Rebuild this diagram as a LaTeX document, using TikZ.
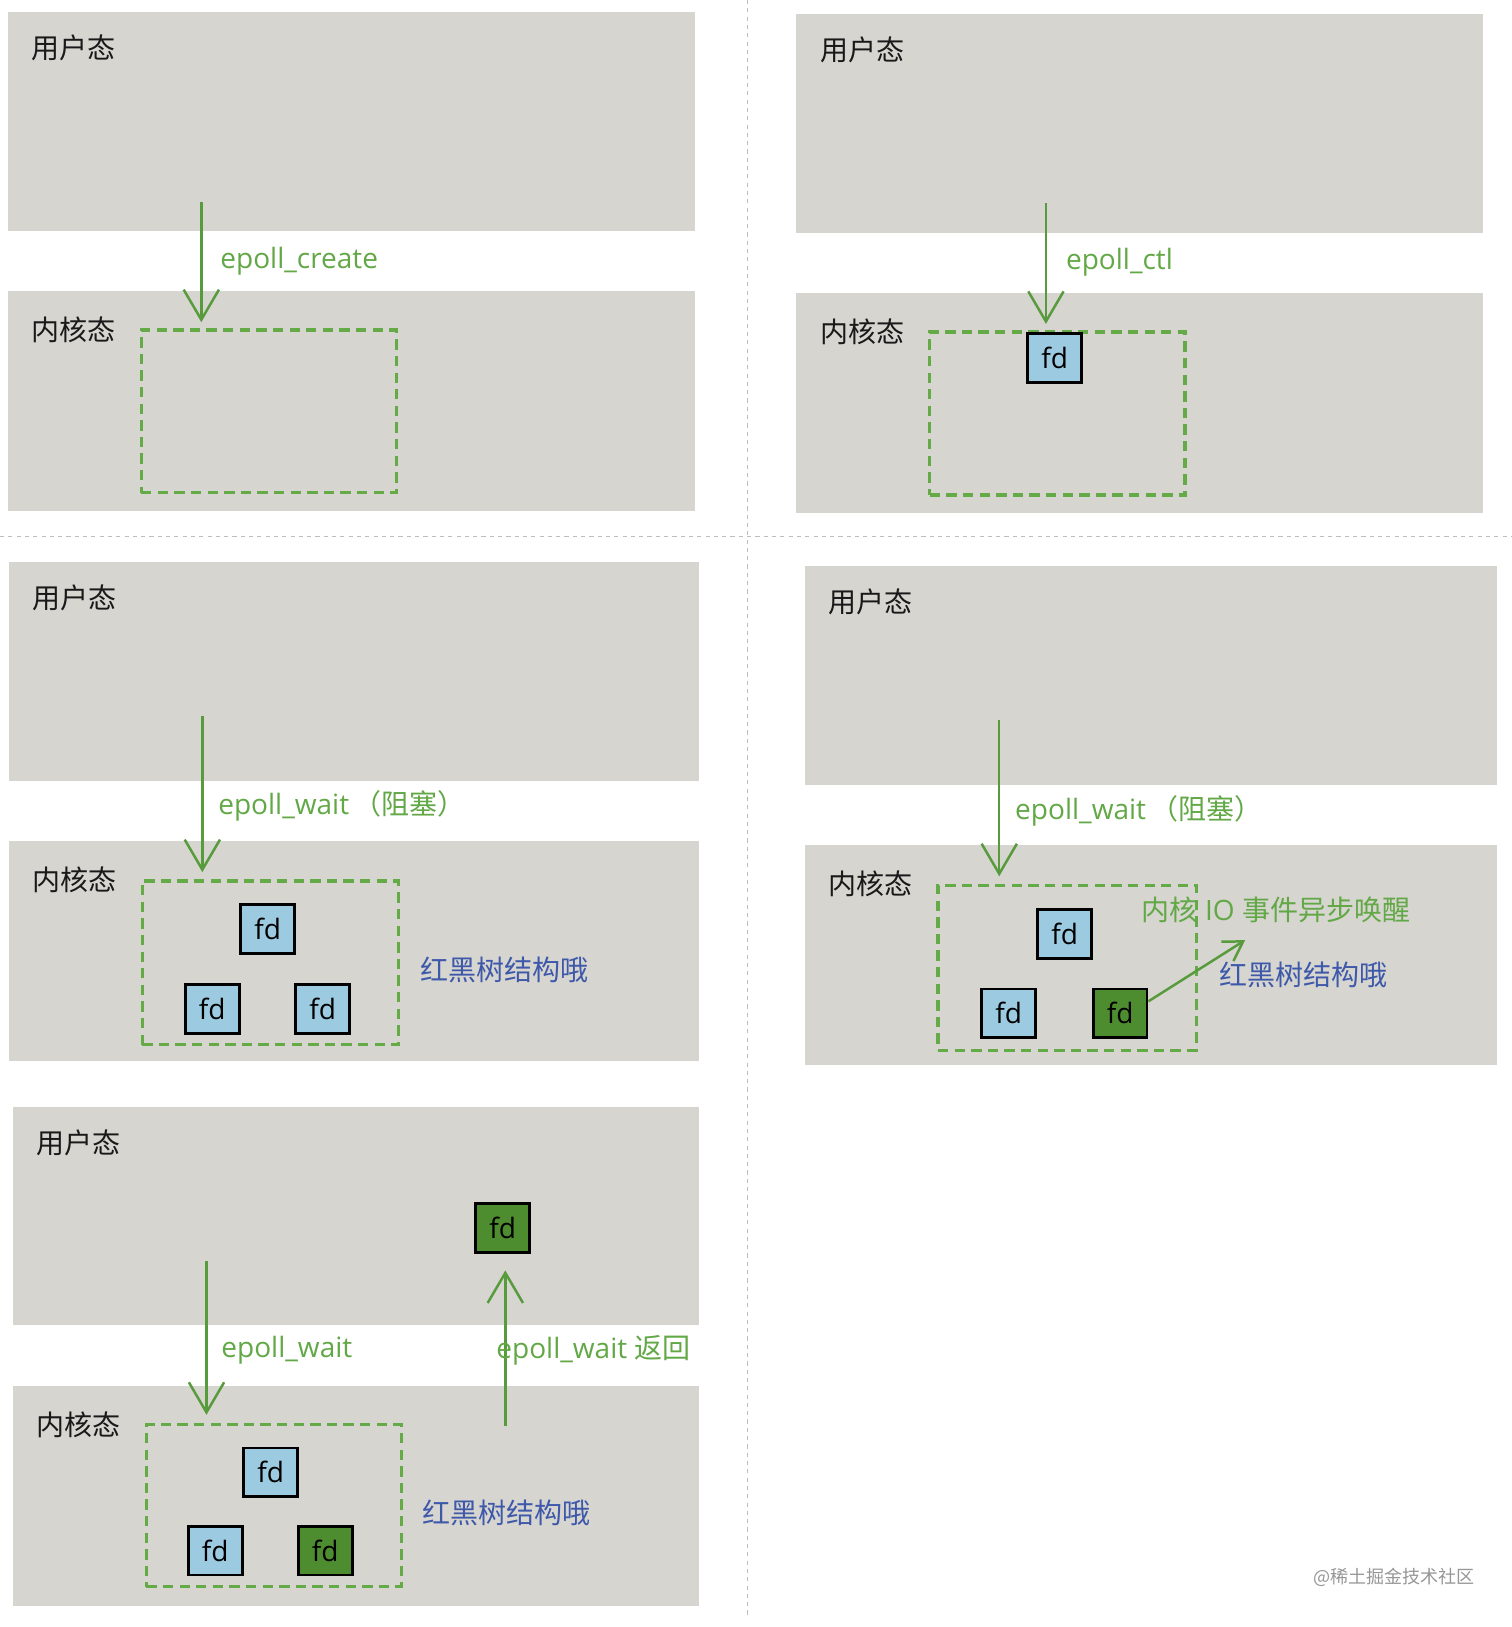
\documentclass[tikz,border=0pt]{standalone}
\usepackage{fontspec}
\setmainfont{Open Sans}
\newfontfamily\cjk{Noto Sans CJK SC}
\usetikzlibrary{arrows.meta}

\definecolor{boxgray}{RGB}{214,213,208}
\definecolor{arrowgreen}{RGB}{88,155,60}
\definecolor{textgreen}{RGB}{98,168,70}
\definecolor{dashgreen}{RGB}{100,170,70}
\definecolor{fdblue}{RGB}{156,203,225}
\definecolor{fdgreen}{RGB}{78,140,48}
\definecolor{textblue}{RGB}{62,88,170}

\tikzset{
  layer/.style={fill=boxgray, inner sep=0pt, minimum height=105.5pt},
  modelabel/.style={anchor=west, inner sep=0pt, text={rgb,255:red,25;green,25;blue,25},
    font=\cjk\fontsize{13.5}{16}\selectfont},
  calllabel/.style={anchor=west, inner sep=0pt, text=textgreen, font=\fontsize{13.5}{16}\selectfont},
  treelabel/.style={anchor=west, inner sep=0pt, text=textblue, font=\cjk\fontsize{13.5}{16}\selectfont},
  flow/.style={draw=arrowgreen, line width=1.2pt, -{Straight Barb[length=14.5pt,width=17pt]}},
  fdset/.style={draw=dashgreen, line width=1.5pt, dash pattern=on 5pt off 3pt, inner sep=0pt},
  fdbox/.style={draw=black, line width=1.3pt, fill=fdblue, inner sep=0pt,
    minimum width=26pt, minimum height=23.5pt, font=\fontsize{13.5}{16}\selectfont},
  fdready/.style={fdbox, fill=fdgreen},
  sepline/.style={draw={rgb,255:red,190;green,190;blue,190}, line width=0.5pt, dash pattern=on 2pt off 2pt}
}

% user/kernel layers of one step: #1 prefix, #2 left x, #3 top y, #4 width
\newcommand{\modepair}[4]{%
  \node[layer, anchor=north west, minimum width=#4*0.5pt] (#1user) at (#2,#3) {};
  \node[layer, anchor=north west, minimum width=#4*0.5pt, minimum height=106pt] (#1kern) at (#2,#3+269) {};
  \node[modelabel] (#1userlbl) at (#2+23,#3+35) {用户态};
  \node[modelabel] (#1kernlbl) at (#2+23,#3+307) {内核态};
}

\begin{document}
\begin{tikzpicture}[x=0.5pt, y=-0.5pt]
\useasboundingbox (0,0) rectangle (1457,1568);

% Separators
\draw[sepline] (720,0) -- (720,1560);
\draw[sepline] (0,517) -- (1457,517);

% ---- epoll_create ----
\modepair{c}{7}{11}{662}
\node[fdset, minimum width=123pt, minimum height=78.5pt] (cset) at (259,396.5) {};
\coordinate (cstart) at (194,195);
\draw[flow, shorten >=3pt] (cstart) -- (cstart |- cset.north);
\node[calllabel] (ccall) at (212,252) {epoll\_create};

% ---- epoll_ctl ----
\modepair{t}{767}{13}{662}
\node[fdset, minimum width=123pt, minimum height=78.5pt] (tset) at (1019,398.5) {};
\node[fdbox] (tfd) at (1016.5,345) {fd};
\coordinate (tstart) at (1008,196);
\draw[flow, shorten >=4pt] (tstart) -- (tstart |- tfd.north);
\node[calllabel] (tcall) at (1027,253) {epoll\_ctl};

% ---- epoll_wait (blocked) ----
\modepair{w}{8}{541}{665}
\node[fdset, minimum width=123.5pt, minimum height=79pt] (wset) at (260.5,928) {};
\node[fdbox] (wfd1) at (258,895.5) {fd};
\node[fdbox] (wfd2) at (204.5,972.5) {fd};
\node[fdbox] (wfd3) at (311,972.5) {fd};
\coordinate (wstart) at (195,690);
\draw[flow, shorten >=3.5pt] (wstart) -- (wstart |- wset.north);
\node[calllabel] (wcall) at (210,777) {epoll\_wait\,{\cjk （阻塞）}};
\node[treelabel] (wtree) at (405,935) {红黑树结构哦};

% ---- kernel wakes up ----
\modepair{k}{775}{545}{667}
\node[fdset, minimum width=124.5pt, minimum height=79.5pt] (kset) at (1028.5,932.5) {};
\node[fdbox] (kfd1) at (1026,900) {fd};
\node[fdbox] (kfd2) at (972,976.5) {fd};
\node[fdready] (kfd3) at (1079.5,976.5) {fd};
\coordinate (kstart) at (963,694);
\draw[flow, shorten >=3.5pt] (kstart) -- (kstart |- kset.north);
\node[calllabel] (kcall) at (978,781) {epoll\_wait\,{\cjk （阻塞）}};
\node[calllabel] (kwake) at (1100,877) {{\cjk 内核} IO {\cjk 事件异步唤醒}};
\node[treelabel] (ktree) at (1175,940) {红黑树结构哦};
\coordinate (kend) at (1200,906);
\draw[draw=arrowgreen, line width=1.2pt, -{Straight Barb[length=9pt,width=11pt]}]
  ([yshift=5.75pt]kfd3.east) -- (kend);

% ---- epoll_wait returns ----
\modepair{r}{12}{1066}{661}
\node[fdset, minimum width=123pt, minimum height=78pt] (rset) at (264,1451) {};
\node[fdbox] (rfd1) at (261,1419) {fd};
\node[fdbox] (rfd2) at (207.5,1494.5) {fd};
\node[fdready] (rfd3) at (313.5,1494.5) {fd};
\node[fdready] (rfdout) at (484.5,1183.5) {fd};
\coordinate (rstart) at (199,1215);
\draw[flow, shorten >=4pt] (rstart) -- (rstart |- rset.north);
\coordinate (rback) at (487,1374);
\draw[flow, shorten >=8pt] (rback) -- (rback |- rfdout.south);
\node[calllabel] (rcall) at (213,1301) {epoll\_wait};
\node[calllabel] (rret) at (478,1301) {epoll\_wait {\cjk 返回}};
\node[treelabel] (rtree) at (407,1458) {红黑树结构哦};

% Watermark
\node[anchor=west, inner sep=0pt, text={rgb,255:red,150;green,150;blue,150},
  font=\cjk\fontsize{8.7}{10}\selectfont] (mark) at (1265,1520) {@稀土掘金技术社区};
\end{tikzpicture}
\end{document}
